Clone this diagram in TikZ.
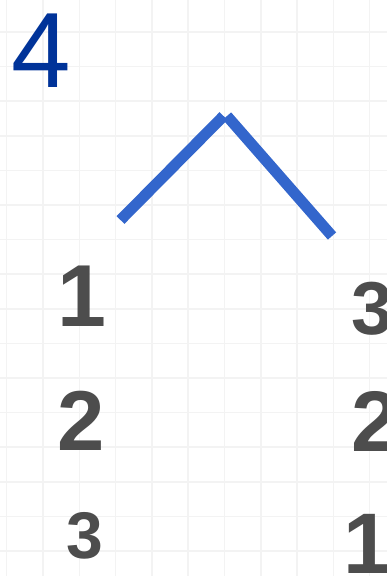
\documentclass[tikz,border=0pt]{standalone}
\usepackage{fontspec}
\setmainfont{Liberation Sans}
\definecolor{gridc}{HTML}{F3F3F3}
\definecolor{caretc}{HTML}{3366CC}
\definecolor{numblue}{HTML}{003399}
\definecolor{numgray}{HTML}{4D4D4D}
\tikzset{
  gridline/.style={draw=gridc, line width=1.5pt},
  caretline/.style={draw=caretc, line width=11pt, line cap=butt},
  bignum/.style={text=numgray, inner sep=0pt, anchor=base, font=\bfseries\fontsize{#1}{#1}\selectfont},
  topnum/.style={text=numblue, inner sep=0pt, anchor=base, font=\fontsize{107}{107}\selectfont}
}
\begin{document}
\begin{tikzpicture}[x=1pt,y=-1pt]
\useasboundingbox (0,0) rectangle (387,576);
\clip (0,0) rectangle (387,576);
\fill[white] (0,0) rectangle (387,576);
\foreach \i in {0,...,10} \draw[gridline] ({6.7+36.3*\i},0) -- ++(0,576);
\foreach \j in {0,...,17} \draw[gridline] (0,{-2.6+34.6*\j}) -- ++(387,0);
\node[topnum] (four) at (41.5,87) {4};
\coordinate (l1) at (120.5,220);
\coordinate (l2) at (223.5,116);
\coordinate (r1) at (227,116);
\coordinate (r2) at (332,236);
\draw[caretline] (l1) -- (l2);
\draw[caretline] (r1) -- (r2);
\node[bignum=88] (a1) at (81.5,326) {1};
\node[bignum=85] (a2) at (81.5,450) {2};
\node[bignum=66] (a3) at (85,558) {3};
\node[bignum=75] (b3) at (372.5,334) {3};
\node[bignum=86] (b2) at (375,451) {2};
\node[bignum=86] (b1) at (367,573) {1};
\end{tikzpicture}
\end{document}
